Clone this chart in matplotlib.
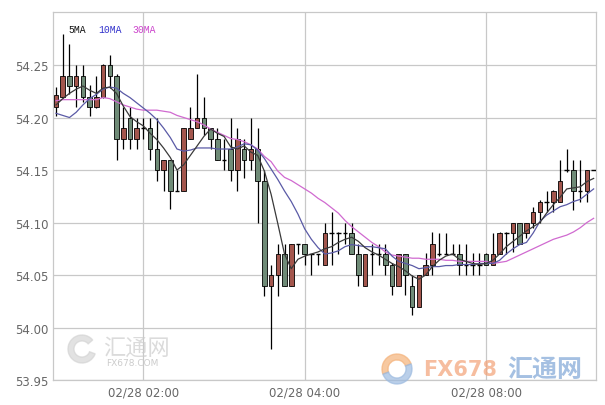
import matplotlib
matplotlib.use('Agg')
import matplotlib.pyplot as plt
from matplotlib.patches import Wedge
from matplotlib.transforms import IdentityTransform
import numpy as np

# OHLC (one entry per candle, left to right)
opens = [54.210, 54.220, 54.240, 54.230, 54.240, 54.220, 54.210, 54.220, 54.250, 54.240,
         54.180, 54.200, 54.180, 54.190, 54.190, 54.170, 54.150, 54.160, 54.130, 54.130,
         54.180, 54.190, 54.200, 54.190, 54.180, 54.160, 54.170, 54.150, 54.170, 54.160,
         54.170, 54.140, 54.040, 54.050, 54.070, 54.040, 54.080, 54.080, 54.070, 54.070,
         54.060, 54.090, 54.090, 54.090, 54.090, 54.070, 54.040, 54.070, 54.070, 54.070,
         54.060, 54.040, 54.070, 54.040, 54.020, 54.050, 54.060, 54.070, 54.070, 54.070,
         54.070, 54.060, 54.060, 54.060, 54.070, 54.060, 54.070, 54.090, 54.090, 54.100,
         54.090, 54.100, 54.110, 54.120, 54.120, 54.120, 54.150, 54.150, 54.130, 54.130,
         54.150]
highs = [54.229, 54.280, 54.270, 54.250, 54.250, 54.231, 54.240, 54.251, 54.260, 54.241,
         54.210, 54.210, 54.200, 54.200, 54.200, 54.200, 54.160, 54.160, 54.150, 54.190,
         54.210, 54.241, 54.220, 54.190, 54.190, 54.180, 54.200, 54.190, 54.180, 54.200,
         54.190, 54.150, 54.060, 54.080, 54.080, 54.080, 54.080, 54.080, 54.070, 54.070,
         54.100, 54.110, 54.091, 54.100, 54.100, 54.080, 54.070, 54.080, 54.080, 54.080,
         54.061, 54.070, 54.070, 54.050, 54.050, 54.071, 54.091, 54.090, 54.090, 54.080,
         54.080, 54.080, 54.071, 54.071, 54.071, 54.090, 54.091, 54.091, 54.100, 54.100,
         54.100, 54.115, 54.121, 54.130, 54.131, 54.160, 54.170, 54.160, 54.160, 54.150,
         54.150]
lows = [54.201, 54.219, 54.222, 54.210, 54.215, 54.201, 54.209, 54.219, 54.228, 54.160,
        54.170, 54.170, 54.170, 54.180, 54.160, 54.140, 54.130, 54.113, 54.130, 54.130,
        54.180, 54.190, 54.183, 54.170, 54.160, 54.150, 54.140, 54.130, 54.142, 54.150,
        54.100, 54.030, 53.980, 54.030, 54.040, 54.040, 54.070, 54.060, 54.050, 54.060,
        54.060, 54.060, 54.070, 54.080, 54.070, 54.040, 54.040, 54.050, 54.060, 54.050,
        54.031, 54.040, 54.031, 54.012, 54.020, 54.050, 54.050, 54.068, 54.070, 54.070,
        54.050, 54.050, 54.050, 54.050, 54.060, 54.060, 54.070, 54.070, 54.072, 54.080,
        54.085, 54.095, 54.100, 54.110, 54.110, 54.120, 54.148, 54.112, 54.120, 54.120,
        54.150]
closes = [54.221, 54.240, 54.230, 54.240, 54.220, 54.210, 54.220, 54.250, 54.240, 54.180,
          54.190, 54.180, 54.190, 54.190, 54.170, 54.150, 54.160, 54.130, 54.130, 54.190,
          54.190, 54.200, 54.190, 54.180, 54.160, 54.160, 54.150, 54.180, 54.160, 54.170,
          54.140, 54.040, 54.050, 54.070, 54.040, 54.080, 54.080, 54.070, 54.070, 54.070,
          54.090, 54.090, 54.090, 54.090, 54.070, 54.050, 54.070, 54.070, 54.070, 54.060,
          54.040, 54.070, 54.050, 54.020, 54.050, 54.060, 54.080, 54.070, 54.070, 54.070,
          54.060, 54.060, 54.060, 54.060, 54.060, 54.070, 54.090, 54.090, 54.100, 54.080,
          54.100, 54.110, 54.120, 54.120, 54.130, 54.140, 54.150, 54.130, 54.130, 54.150,
          54.150]

# moving averages as drawn on the chart
ma5 = [54.212, 54.218, 54.223, 54.227, 54.230, 54.226, 54.223, 54.228, 54.229, 54.223,
       54.211, 54.201, 54.196, 54.192, 54.185, 54.179, 54.171, 54.162, 54.150, 54.155,
       54.164, 54.173, 54.182, 54.189, 54.185, 54.182, 54.172, 54.170, 54.173, 54.167,
       54.164, 54.149, 54.127, 54.099, 54.070, 54.056, 54.065, 54.068, 54.070, 54.072,
       54.075, 54.077, 54.081, 54.084, 54.086, 54.082, 54.076, 54.072, 54.069, 54.065,
       54.061, 54.058, 54.054, 54.049, 54.046, 54.050, 54.058, 54.064, 54.068, 54.070,
       54.065, 54.063, 54.061, 54.060, 54.061, 54.064, 54.070, 54.077, 54.082, 54.087,
       54.092, 54.096, 54.100, 54.109, 54.117, 54.124, 54.132, 54.133, 54.134, 54.139,
       54.142]
ma10 = [54.204, 54.202, 54.200, 54.205, 54.212, 54.218, 54.222, 54.227, 54.229, 54.228,
        54.223, 54.219, 54.214, 54.209, 54.204, 54.198, 54.190, 54.181, 54.170, 54.168,
        54.169, 54.171, 54.171, 54.171, 54.170, 54.170, 54.170, 54.172, 54.175, 54.174,
        54.169, 54.161, 54.151, 54.141, 54.130, 54.120, 54.108, 54.094, 54.084, 54.076,
        54.070, 54.071, 54.073, 54.077, 54.079, 54.078, 54.077, 54.077, 54.076, 54.075,
        54.068, 54.063, 54.061, 54.059, 54.056, 54.057, 54.058, 54.058, 54.059, 54.059,
        54.060, 54.060, 54.060, 54.061, 54.061, 54.061, 54.064, 54.070, 54.075, 54.079,
        54.081, 54.090, 54.101, 54.107, 54.111, 54.115, 54.117, 54.120, 54.122, 54.127,
        54.132]
ma30 = [54.216, 54.217, 54.217, 54.217, 54.217, 54.217, 54.217, 54.219, 54.218, 54.215,
        54.212, 54.210, 54.208, 54.207, 54.207, 54.207, 54.206, 54.205, 54.202, 54.200,
        54.198, 54.196, 54.193, 54.189, 54.186, 54.183, 54.180, 54.179, 54.177, 54.174,
        54.170, 54.163, 54.158, 54.149, 54.143, 54.140, 54.136, 54.132, 54.128, 54.123,
        54.119, 54.114, 54.109, 54.102, 54.096, 54.091, 54.086, 54.081, 54.077, 54.072,
        54.069, 54.068, 54.067, 54.066, 54.066, 54.065, 54.065, 54.065, 54.064, 54.064,
        54.063, 54.063, 54.063, 54.063, 54.063, 54.061, 54.062, 54.063, 54.066, 54.069,
        54.072, 54.075, 54.078, 54.081, 54.084, 54.086, 54.088, 54.091, 54.095, 54.100,
        54.104]

tick_pos = [13, 37, 64]
tick_labels = ['02/28 02:00', '02/28 04:00', '02/28 08:00']
y_ticks = [53.95, 54.00, 54.05, 54.10, 54.15, 54.20, 54.25]

up_color = '#a3564d'
down_color = '#6f8b77'
grid_color = '#c8c8c8'

fig = plt.figure(figsize=(6.05, 4.06), dpi=100)
ax = fig.add_axes([53 / 605, 25 / 406, 543 / 605, 368 / 406])

x = np.arange(len(opens))
o = np.array(opens)
c = np.array(closes)
h = np.array(highs)
l = np.array(lows)
w = 0.68

# wicks
ax.vlines(x, l, h, color='black', linewidth=0.9, zorder=2)

# bodies
up = c > o
down = c < o
flat = c == o
ax.bar(x[up], (c - o)[up], bottom=o[up], width=w, color=up_color,
       edgecolor='black', linewidth=0.6, zorder=3)
ax.bar(x[down], (o - c)[down], bottom=c[down], width=w, color=down_color,
       edgecolor='black', linewidth=0.6, zorder=3)
ax.hlines(c[flat], x[flat] - w / 2, x[flat] + w / 2, color='black', linewidth=1.0, zorder=3)

# moving averages
ax.plot(x, ma30, color='#d06ad0', linewidth=0.9, zorder=4)
ax.plot(x, ma10, color='#5a5aa6', linewidth=0.9, zorder=4)
ax.plot(x, ma5, color='#3a3a3a', linewidth=0.9, zorder=4)

ax.set_xlim(-0.45, 80.35)
ax.set_ylim(53.95, 54.3005)
ax.set_yticks(y_ticks)
ax.set_yticklabels(['%.2f' % v for v in y_ticks])
ax.set_xticks(tick_pos)
ax.set_xticklabels(tick_labels)
ax.tick_params(length=0, labelsize=8.5, labelcolor='#666666', pad=3)
ax.tick_params(axis='x', pad=4)
ax.grid(True, color=grid_color, linewidth=0.9, zorder=0)
ax.set_axisbelow(True)
for s in ax.spines.values():
    s.set_color(grid_color)
    s.set_linewidth(0.9)

# legend labels
ax.text(0.029, 0.955, '5MA', transform=ax.transAxes, fontsize=7, color='#111111',
        family='Liberation Mono', va='center')
ax.text(0.083, 0.955, '10MA', transform=ax.transAxes, fontsize=7, color='#3333cc',
        family='Liberation Mono', va='center')
ax.text(0.147, 0.955, '30MA', transform=ax.transAxes, fontsize=7, color='#cc44cc',
        family='Liberation Mono', va='center')

# watermarks (pixel coordinates, origin bottom-left)
pix = IdentityTransform()
fig.add_artist(Wedge((82, 406 - 350), 14, 40, 340, width=6, color='#d0d0d0', alpha=0.6,
                     transform=pix))
fig.text(103 / 605, (406 - 348) / 406, '汇通网', fontsize=16, color='#cccccc', alpha=0.7,
         family=['Noto Sans CJK SC'], va='center')
fig.text(106 / 605, (406 - 364) / 406, 'FX678.COM', fontsize=6.5, color='#cccccc',
         va='center')

fig.add_artist(Wedge((397, 406 - 370), 15, 20, 200, width=6, color='#f4b27a', alpha=0.7,
                     transform=pix))
fig.add_artist(Wedge((397, 406 - 370), 15, 200, 380, width=6, color='#9dbbe0', alpha=0.7,
                     transform=pix))
fig.text(423 / 605, (406 - 370) / 406, 'FX678', fontsize=15, fontweight='bold',
         color='#f3a277', alpha=0.7, va='center')
fig.text(507 / 605, (406 - 370) / 406, '汇通网', fontsize=18, fontweight='bold',
         color='#7fa6d6', alpha=0.7, family=['Noto Sans CJK SC'], va='center')

fig.savefig('out.png', dpi=100, facecolor='white')
